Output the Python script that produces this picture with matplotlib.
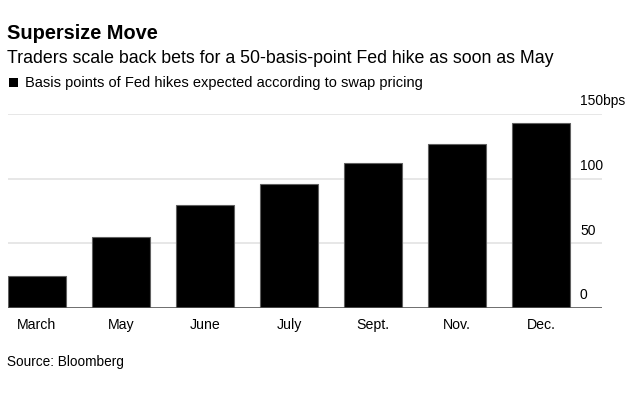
import matplotlib
matplotlib.use("Agg")
import matplotlib.pyplot as plt

months = ["March", "May", "June", "July", "Sept.", "Nov.", "Dec."]
hikes_bps = [25, 55, 80, 96, 112, 127, 143]
ytick_values = [0, 50, 100, 150]
ytick_labels = ["0", "50", "100", "150bps"]

plt.rcParams['font.family'] = ['Liberation Sans', 'DejaVu Sans']

W, H = 627, 395
fig = plt.figure(figsize=(W / 100, H / 100), dpi=100)

def fx(px):
    return px / W

def fy(py):
    return 1 - py / H

ax_left, ax_right, ax_top, ax_bottom = 8, 602, 114, 308
ax = fig.add_axes([fx(ax_left), fy(ax_bottom), fx(ax_right - ax_left), (ax_bottom - ax_top) / H])

width = 0.69
x = list(range(len(months)))
ax.bar(x, hikes_bps, width=width, color="black", edgecolor="#606060", linewidth=0.8, zorder=3)

ax.set_xlim(-width / 2, (ax_right - 37) / 84)
ax.set_ylim(0, 150)

for v in ytick_values[1:]:
    ax.axhline(v, color="#e3e3e3", linewidth=1.2, zorder=1)
ax.axhline(0, color="#555555", linewidth=1.2, zorder=4)

for s in ax.spines.values():
    s.set_visible(False)
ax.set_yticks([])
ax.set_xticks(x)
ax.set_xticklabels(months, fontsize=10.2, color="black")
ax.tick_params(axis="x", length=0, pad=7)

for v, lab in zip(ytick_values, ytick_labels):
    ax.text((580 - ax_left) / (ax_right - ax_left), v + 4.5, lab,
            transform=ax.get_yaxis_transform(), fontsize=10,
            ha="left", va="bottom", color="black")

fig.text(fx(7), fy(39), "Supersize Move", fontsize=14.4, fontweight="bold",
         ha="left", va="baseline")
fig.text(fx(7), fy(63), "Traders scale back bets for a 50-basis-point Fed hike as soon as May",
         fontsize=12.8, ha="left", va="baseline")
fig.patches.append(plt.Rectangle((fx(9), fy(87)), fx(9), 9 / H, transform=fig.transFigure,
                                 facecolor="black", edgecolor="none"))
fig.text(fx(25), fy(87), "Basis points of Fed hikes expected according to swap pricing",
         fontsize=10.5, ha="left", va="baseline")
fig.text(fx(7), fy(366), "Source: Bloomberg", fontsize=9.8, ha="left", va="baseline")

fig.savefig("out.png", dpi=100)
